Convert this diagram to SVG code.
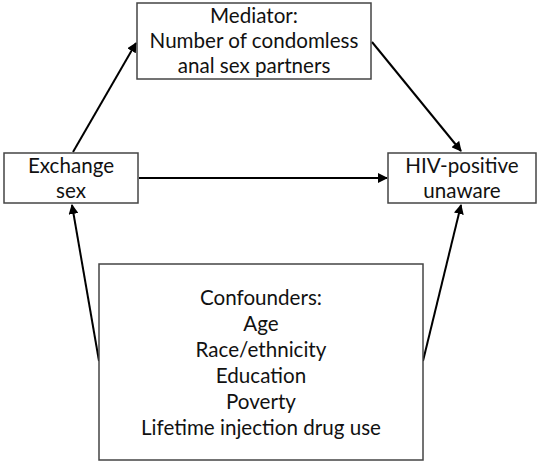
<svg xmlns="http://www.w3.org/2000/svg" width="539" height="462" viewBox="0 0 539 462">
<style>
.box{fill:#fff;stroke:#444;stroke-width:1.5}
.t{font-family:Lato,"Open Sans",sans-serif;font-size:20.6px;fill:#111;text-anchor:middle}
.c{stroke:#000;stroke-width:2;fill:none;marker-end:url(#ah)}
</style>
<defs>
<marker id="ah" viewBox="0 0 10 10" refX="9" refY="5" markerWidth="5" markerHeight="5" orient="auto" markerUnits="strokeWidth">
<path d="M0,0 L10,5 L0,10 z" fill="#000"/>
</marker>
</defs>
<rect width="539" height="462" fill="#fff"/>
<g id="connectors">
<line class="c" x1="73" y1="152" x2="136" y2="43"/>
<line class="c" x1="372" y1="42" x2="461" y2="151"/>
<line class="c" x1="139" y1="178" x2="387" y2="178"/>
<line class="c" x1="99" y1="361" x2="72" y2="205"/>
<line class="c" x1="423" y1="361" x2="461" y2="205"/>
</g>
<g id="mediator">
<rect class="box" x="137" y="3" width="234" height="76"/>
<text class="t" x="254" y="23">Mediator:</text>
<text class="t" x="254" y="48">Number of condomless</text>
<text class="t" x="254" y="73">anal sex partners</text>
</g>
<g id="exchange">
<rect class="box" x="4" y="153" width="134" height="50"/>
<text class="t" x="71" y="173">Exchange</text>
<text class="t" x="71" y="198">sex</text>
</g>
<g id="hiv">
<rect class="box" x="388" y="153" width="148" height="50"/>
<text class="t" x="462" y="173">HIV-positive</text>
<text class="t" x="462" y="198">unaware</text>
</g>
<g id="confounders">
<rect class="box" x="99" y="264" width="324" height="196"/>
<text class="t" x="261" y="305">Confounders:</text>
<text class="t" x="261" y="331">Age</text>
<text class="t" x="261" y="357">Race/ethnicity</text>
<text class="t" x="261" y="383">Education</text>
<text class="t" x="261" y="409">Poverty</text>
<text class="t" x="261" y="435">Lifetime injection drug use</text>
</g>
</svg>
